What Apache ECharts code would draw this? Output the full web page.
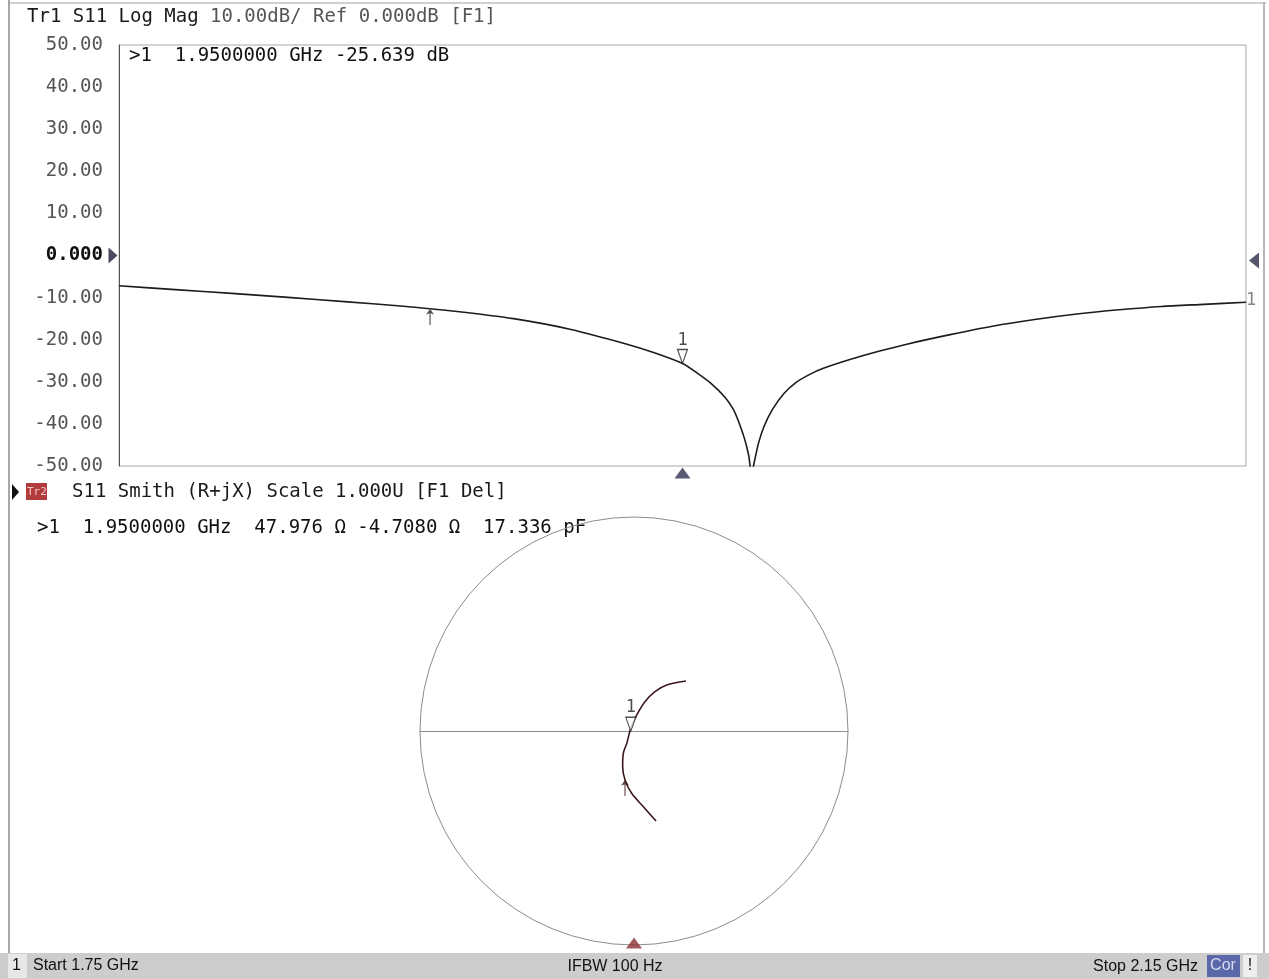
<!DOCTYPE html>
<html><head><meta charset="utf-8">
<script src="https://cdn.jsdelivr.net/npm/echarts@6/dist/echarts.min.js"></script>
<style>html,body{margin:0;padding:0;background:#fff}#c{width:1269px;height:979px}</style>
</head><body><div id="c"></div>
<script>
// ---- Trace 1: S11 Log Mag ----
const freqGHz = [1.750,1.770,1.790,1.810,1.830,1.850,1.870,1.890,1.910,1.930,1.940,1.950,1.955,1.960,1.965,1.968,1.970,1.972,1.9735,1.9745,1.9755,1.977,1.979,1.982,1.986,1.990,1.995,2.000,2.010,2.020,2.030,2.045,2.060,2.075,2.090,2.105,2.120,2.135,2.150];
const s11dB   = [-7.2,-8.1,-9.0,-9.95,-10.95,-12.0,-13.3,-15.0,-17.5,-21.0,-23.1,-25.639,-27.8,-30.3,-33.6,-36.5,-39.6,-43.5,-47.5,-52.0,-49.0,-44.5,-40.5,-36.5,-32.8,-30.3,-28.3,-26.8,-24.6,-22.7,-21.0,-18.8,-16.8,-15.2,-13.9,-12.9,-12.1,-11.6,-11.1];
const yTicks  = [50,40,30,20,10,0,-10,-20,-30,-40,-50];
const marker1 = {freq:1.95, dB:-25.639};
const stimArrow = {freq:1.8604, dB:-12.7};
// ---- Trace 2: S11 Smith (reflection coefficient, real / imag) ----
const smithRe = [0.103,0.044,-0.011,-0.042,-0.053,-0.050,-0.034,-0.015,0.013,0.051,0.098,0.153,0.243];
const smithIm = [-0.421,-0.354,-0.291,-0.229,-0.167,-0.104,-0.058,0.013,0.075,0.137,0.184,0.215,0.234];
const smithMarker = [-0.015, 0.013];
const smithArrow = [-0.042, -0.229];

const MONO = '"DejaVu Sans Mono", monospace';
const chart = echarts.init(document.getElementById('c'), null, {renderer:'canvas'});

const triDown = 'path://M0,0 L10,0 L5,13 Z';
const arrowUp = 'path://M5,0 L0,7 L4.3,5.5 L4.3,20 L5.7,20 L5.7,5.5 L10,7 Z';
const triRight = 'path://M0,0 L10,8 L0,16 Z';
const triLeft = 'path://M10,0 L0,8 L10,16 Z';
const triUp = 'path://M0,12 L7,0 L14,12 Z';

const logData = freqGHz.map((f,i)=>[f,s11dB[i]]);
const smithData = smithRe.map((r,i)=>[r,smithIm[i]]);

function txt(text,x,y,opt){
  return Object.assign({type:'text',silent:true,style:Object.assign({text,x,y,font:'19px '+MONO,fill:'#222',verticalAlign:'middle',align:'left'},opt||{})});
}

const option = {
  animation:false,
  backgroundColor:'#fff',
  grid:[
    {left:119, top:45, width:1127, height:421, show:true, borderColor:'#a8a8a8', borderWidth:1, containLabel:false},
    {left:420, top:517, width:428, height:428, show:false}
  ],
  polar:{center:[634,731], radius:214},
  angleAxis:{type:'value', min:0, max:360, polarIndex:0, axisLine:{show:true,lineStyle:{color:'#8c8c8c',width:1}}, axisTick:{show:false}, axisLabel:{show:false}, splitLine:{show:false}, silent:true},
  radiusAxis:{show:false, min:0, max:1, polarIndex:0},
  xAxis:[
    {gridIndex:0, type:'value', min:1.75, max:2.15, show:false},
    {gridIndex:1, type:'value', min:-1, max:1, show:true, axisLine:{show:true,onZero:true,lineStyle:{color:'#8c8c8c',width:1}}, axisTick:{show:false}, axisLabel:{show:false}, splitLine:{show:false}}
  ],
  yAxis:[
    {gridIndex:0, type:'value', min:-50, max:50, interval:10,
     axisLine:{show:true,lineStyle:{color:'#555',width:1}}, axisTick:{show:false}, splitLine:{show:false},
     axisLabel:{margin:16, formatter:function(v){
        const t = yTicks.find(k=>k===v);
        if(t===undefined) return '';
        return t===0 ? '{b|0.000}' : '{n|'+t.toFixed(2)+'}';
      }, rich:{
        b:{fontFamily:MONO,fontSize:19,fontWeight:'bold',color:'#111'},
        n:{fontFamily:MONO,fontSize:19,color:'#555'}
      }}},
    {gridIndex:1, type:'value', min:-1, max:1, show:false}
  ],
  series:[
    {type:'line', xAxisIndex:0, yAxisIndex:0, data:logData, symbol:'none', smooth:0.25, clip:true,
     lineStyle:{color:'#1c1c1c', width:1.6}, z:3},
    // marker 1 on log mag
    {type:'scatter', xAxisIndex:0, yAxisIndex:0, data:[[marker1.freq, marker1.dB]], symbol:triDown, symbolSize:[10,14], symbolOffset:[0,-7], clip:false,
     itemStyle:{color:'#fff', borderColor:'#222', borderWidth:1.2},
     label:{show:true, position:'top', distance:0, formatter:'1', fontFamily:MONO, fontSize:17, color:'#222'}, z:5},
    // stimulus arrow
    {type:'scatter', xAxisIndex:0, yAxisIndex:0, data:[[stimArrow.freq, stimArrow.dB]], symbol:arrowUp, symbolSize:[8,16], symbolOffset:[0,8], clip:false,
     itemStyle:{color:'#222'}, z:5},
    // trace end label
    {type:'scatter', xAxisIndex:0, yAxisIndex:0, data:[[2.15, s11dB[s11dB.length-1]]], symbol:'circle', symbolSize:0, clip:false,
     label:{show:true, position:'right', distance:0, offset:[0,-2], formatter:'1', fontFamily:MONO, fontSize:17, color:'#666'}, z:5},
    // reference position triangles
    {type:'scatter', xAxisIndex:0, yAxisIndex:0, data:[[1.75,0]], symbol:triRight, symbolSize:[9,16], symbolOffset:[-6,0], clip:false, itemStyle:{color:'#1b1b3a'}, z:5},
    {type:'scatter', xAxisIndex:0, yAxisIndex:0, data:[[2.15,0]], symbol:triLeft, symbolSize:[10,16], symbolOffset:[8,5], clip:false, itemStyle:{color:'#2a2a4a'}, z:5},
    {type:'scatter', xAxisIndex:0, yAxisIndex:0, data:[[marker1.freq,-50]], symbol:triUp, symbolSize:[16,11], symbolOffset:[0,7], clip:false, itemStyle:{color:'#2e3050'}, z:5},
    // Smith trace
    {type:'line', xAxisIndex:1, yAxisIndex:1, data:smithData, symbol:'none', smooth:0.3, lineStyle:{color:'#3a1a1c', width:1.6}, z:3},
    {type:'scatter', xAxisIndex:1, yAxisIndex:1, data:[smithMarker], symbol:triDown, symbolSize:[10,14], symbolOffset:[0,-4], clip:false,
     itemStyle:{color:'#fff', borderColor:'#222', borderWidth:1.2},
     label:{show:true, position:'top', distance:0, formatter:'1', fontFamily:MONO, fontSize:17, color:'#222'}, z:5},
    {type:'scatter', xAxisIndex:1, yAxisIndex:1, data:[smithArrow], symbol:arrowUp, symbolSize:[8,16], symbolOffset:[0,8], clip:false,
     itemStyle:{color:'#3a1a1c'}, z:5},
    {type:'scatter', xAxisIndex:1, yAxisIndex:1, data:[[0,-1]], symbol:triUp, symbolSize:[16,11], symbolOffset:[0,-2], clip:false, itemStyle:{color:'#8a2f2f'}, z:5}
  ],
  graphic:[
    // outer frame
    {type:'rect', silent:true, shape:{x:8,y:0,width:2,height:953}, style:{fill:'#a8a8a8'}},
    {type:'rect', silent:true, shape:{x:10,y:2,width:1256,height:2}, style:{fill:'#d0d0d0'}},
    {type:'rect', silent:true, shape:{x:1263,y:2,width:2,height:951}, style:{fill:'#b8b8b8'}},
    // trace 1 header
    txt('Tr1 S11 Log Mag',27,17,{fill:'#1a1a1a'}),
    txt('10.00dB/ Ref 0.000dB [F1]',210,17,{fill:'#555'}),
    txt('>1  1.9500000 GHz -25.639 dB',129,56,{fill:'#111'}),
    // trace 2 header
    {type:'polygon', silent:true, shape:{points:[[12,484],[19,492],[12,500]]}, style:{fill:'#111'}},
    {type:'rect', silent:true, shape:{x:26,y:483,width:21,height:17}, style:{fill:'#b23b3b'}},
    txt('Tr2',27,492,{font:'11px '+MONO, fill:'#f3c8c8'}),
    txt('S11 Smith (R+jX) Scale 1.000U [F1 Del]',72,492,{fill:'#1a1a1a'}),
    txt('>1  1.9500000 GHz  47.976 Ω -4.7080 Ω  17.336 pF',37,528,{fill:'#111'}),
    // status bar
    {type:'rect', silent:true, shape:{x:0,y:953,width:1269,height:26}, style:{fill:'#cdcdcd'}},
    {type:'rect', silent:true, shape:{x:8,y:954,width:19,height:24}, style:{fill:'#e8e8e8'}},
    txt('1',12,966,{font:'16px "Liberation Sans", sans-serif', fill:'#111'}),
    txt('Start 1.75 GHz',33,966,{font:'16px "Liberation Sans", sans-serif', fill:'#111'}),
    txt('IFBW 100 Hz',615,967,{font:'16px "Liberation Sans", sans-serif', fill:'#111', align:'center'}),
    txt('Stop 2.15 GHz',1198,967,{font:'16px "Liberation Sans", sans-serif', fill:'#111', align:'right'}),
    {type:'rect', silent:true, shape:{x:1207,y:955,width:33,height:22}, style:{fill:'#5a68a8'}},
    txt('Cor',1223,966,{font:'16px "Liberation Sans", sans-serif', fill:'#d8dcf0', align:'center'}),
    {type:'rect', silent:true, shape:{x:1243,y:955,width:14,height:22}, style:{fill:'#eeeeee'}},
    txt('!',1250,966,{font:'16px "Liberation Sans", sans-serif', fill:'#111', align:'center'})
  ]
};
chart.setOption(option);
</script>
</body></html>
